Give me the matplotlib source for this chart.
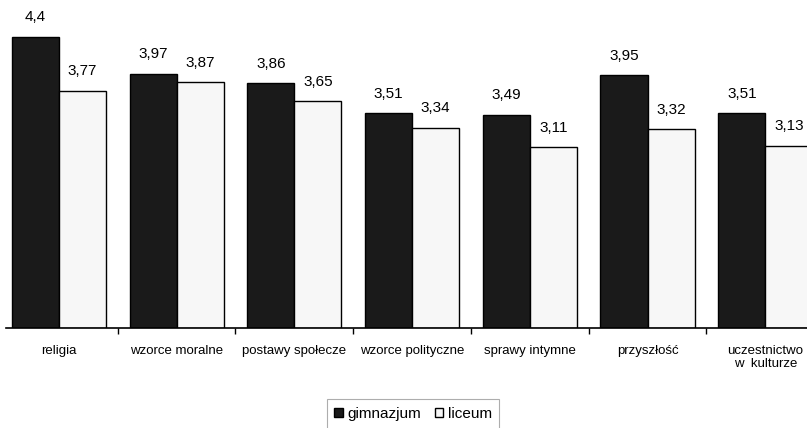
import matplotlib.pyplot as plt
import numpy as np

plt.rcParams['font.family'] = ['Liberation Sans', 'DejaVu Sans']

categories = ['religia', 'wzorce moralne', 'postawy społecze', 'wzorce polityczne',
              'sprawy intymne', 'przyszłość', 'uczestnictwo\nw  kulturze']
gimnazjum = [4.4, 3.97, 3.86, 3.51, 3.49, 3.95, 3.51]
liceum = [3.77, 3.87, 3.65, 3.34, 3.11, 3.32, 3.13]
series_names = ['gimnazjum', 'liceum']

fig = plt.figure(figsize=(8.07, 4.28), dpi=100)
ax = fig.add_axes([0, 100 / 428, 1, 328 / 428])

x = np.arange(len(categories))
w = 0.4
base = 1.0
b1 = ax.bar(x - w / 2, np.array(gimnazjum) - base, w, bottom=base, color='#1a1a1a',
            edgecolor='black', linewidth=1, label=series_names[0])
b2 = ax.bar(x + w / 2, np.array(liceum) - base, w, bottom=base, color='#f7f7f7',
            edgecolor='black', linewidth=1, label=series_names[1])

def fmt(v):
    return ('%g' % v).replace('.', ',')

for xs, vals in ((x - w / 2, gimnazjum), (x + w / 2, liceum)):
    for xi, v in zip(xs, vals):
        ax.annotate(fmt(v), (xi, v), xytext=(0, 9), textcoords='offset points',
                    ha='center', va='bottom', fontsize=11)

ax.set_xlim(-0.5, 6.354)
ax.set_ylim(base, base + 328 / 85.6)

for s in ['top', 'right', 'left']:
    ax.spines[s].set_visible(False)
ax.spines['bottom'].set_bounds(-0.45, 6.354)
ax.spines['bottom'].set_linewidth(1.2)
ax.set_yticks([])
ax.set_xticks(x)
ax.set_xticklabels(categories, fontsize=9.5, linespacing=1.2)
ax.tick_params(axis='x', which='major', length=0, pad=12)
ax.set_xticks(x[:-1] + 0.5, minor=True)
ax.tick_params(axis='x', which='minor', length=4, width=1, direction='out')

leg = fig.legend(handles=[b1, b2], loc='center', bbox_to_anchor=(413 / 807, 14 / 428),
                 ncol=2, frameon=True, fancybox=False, edgecolor='#999999',
                 fontsize=11, handlelength=0.55, handleheight=0.55, handletextpad=0.3,
                 columnspacing=0.9, borderpad=0.5)
leg.get_frame().set_linewidth(0.8)

plt.savefig('out.png', dpi=100)
